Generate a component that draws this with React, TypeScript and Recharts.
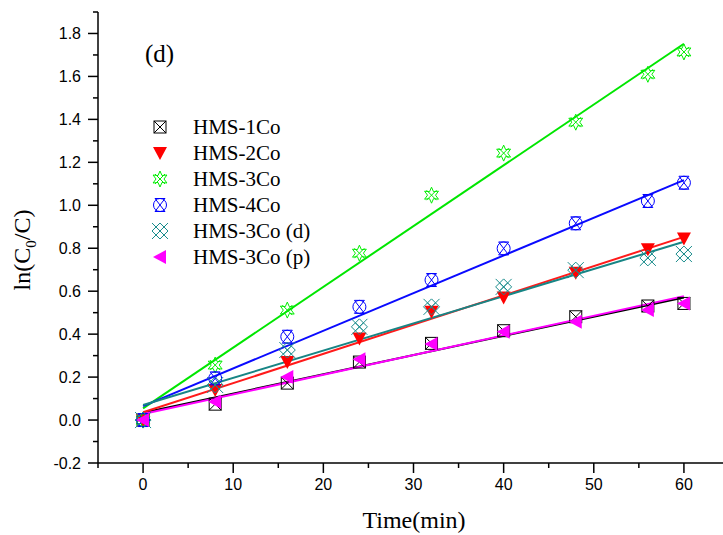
import React from "react";
import { ComposedChart, XAxis, YAxis, Scatter, Line, Label } from "recharts";

// sampled times (min) and ln(C0/C) readings per catalyst
const times = [0, 8, 16, 24, 32, 40, 48, 56, 60];
const hms1Co = [0, 0.074, 0.172, 0.27, 0.357, 0.416, 0.481, 0.531, 0.543];
const hms2Co = [0, 0.14, 0.27, 0.38, 0.504, 0.571, 0.686, 0.795, 0.845];
const hms3Co = [0, 0.256, 0.512, 0.777, 1.047, 1.243, 1.387, 1.61, 1.714];
const hms4Co = [0, 0.194, 0.388, 0.527, 0.652, 0.799, 0.916, 1.02, 1.105];
const hms3CoD = [0, 0.163, 0.326, 0.434, 0.527, 0.62, 0.698, 0.755, 0.773];
const hms3CoP = [0, 0.085, 0.2, 0.283, 0.354, 0.411, 0.458, 0.512, 0.543];

// linear fit lines, value at t=0 and t=60
const fitTimes = [0, 60];
const fit1Co = [0.034, 0.571];
const fit2Co = [0.036, 0.853];
const fit3Co = [0.054, 1.752];
const fit4Co = [0.065, 1.117];
const fit3CoD = [0.07, 0.83];
const fit3CoP = [0.028, 0.577];

const xTicks = [-5, 0, 5, 10, 15, 20, 25, 30, 35, 40, 45, 50, 55, 60, 65];
const yTicks = [-0.2, -0.1, 0, 0.1, 0.2, 0.3, 0.4, 0.5, 0.6, 0.7, 0.8, 0.9, 1.0, 1.1, 1.2, 1.3, 1.4, 1.5, 1.6, 1.7, 1.8, 1.9];

type Kind = "boxX" | "triDown" | "star" | "circBox" | "lattice" | "triLeft";

const series: { name: string; values: number[]; fit: number[]; color: string; line: string; kind: Kind }[] = [
  { name: "HMS-1Co", values: hms1Co, fit: fit1Co, color: "#000000", line: "#000000", kind: "boxX" },
  { name: "HMS-2Co", values: hms2Co, fit: fit2Co, color: "#ff0000", line: "#ff1a1a", kind: "triDown" },
  { name: "HMS-3Co", values: hms3Co, fit: fit3Co, color: "#00ee00", line: "#00e600", kind: "star" },
  { name: "HMS-4Co", values: hms4Co, fit: fit4Co, color: "#0000ff", line: "#0a0aff", kind: "circBox" },
  { name: "HMS-3Co (d)", values: hms3CoD, fit: fit3CoD, color: "#1a8c8c", line: "#178585", kind: "lattice" },
  { name: "HMS-3Co (p)", values: hms3CoP, fit: fit3CoP, color: "#ff00ff", line: "#ff00ff", kind: "triLeft" },
];

const serif = '"Liberation Serif", "Times New Roman", serif';
const sans = '"Liberation Sans", Arial, sans-serif';

function Marker({ kind, color, cx, cy }: { kind: Kind; color: string; cx: number; cy: number }) {
  const s = 6;
  switch (kind) {
    case "boxX":
      return (
        <g stroke={color} strokeWidth={1} fill="none">
          <rect x={cx - s} y={cy - s} width={2 * s} height={2 * s} />
          <line x1={cx - s} y1={cy - s} x2={cx + s} y2={cy + s} />
          <line x1={cx + s} y1={cy - s} x2={cx - s} y2={cy + s} />
        </g>
      );
    case "triDown":
      return <polygon points={`${cx - 7},${cy - 6} ${cx + 7},${cy - 6} ${cx},${cy + 7}`} fill={color} />;
    case "triLeft":
      return <polygon points={`${cx + 6},${cy - 7} ${cx + 6},${cy + 7} ${cx - 7},${cy}`} fill={color} />;
    case "star": {
      const pts: string[] = [];
      for (let i = 0; i < 12; i++) {
        const r = i % 2 === 0 ? 8 : 4;
        const a = (Math.PI / 6) * i - Math.PI / 2;
        pts.push(`${cx + r * Math.cos(a)},${cy + r * Math.sin(a)}`);
      }
      return (
        <g stroke={color} strokeWidth={1} fill="none">
          <polygon points={pts.join(" ")} />
          <line x1={cx - 5} y1={cy - 5} x2={cx + 5} y2={cy + 5} />
          <line x1={cx + 5} y1={cy - 5} x2={cx - 5} y2={cy + 5} />
        </g>
      );
    }
    case "circBox":
      return (
        <g stroke={color} strokeWidth={1} fill="none">
          <circle cx={cx} cy={cy} r={6.5} />
          <line x1={cx - 5} y1={cy - 6.5} x2={cx + 5} y2={cy - 6.5} />
          <line x1={cx - 5} y1={cy + 6.5} x2={cx + 5} y2={cy + 6.5} />
          <line x1={cx - 5} y1={cy - 6.5} x2={cx + 5} y2={cy + 6.5} />
          <line x1={cx + 5} y1={cy - 6.5} x2={cx - 5} y2={cy + 6.5} />
        </g>
      );
    case "lattice":
      return (
        <g stroke={color} strokeWidth={1} fill="none">
          <polygon points={`${cx},${cy - 8} ${cx + 8},${cy} ${cx},${cy + 8} ${cx - 8},${cy}`} />
          <line x1={cx - 4} y1={cy - 4} x2={cx + 4} y2={cy + 4} />
          <line x1={cx + 4} y1={cy - 4} x2={cx - 4} y2={cy + 4} />
          <line x1={cx - 8} y1={cy - 8} x2={cx + 8} y2={cy + 8} />
          <line x1={cx + 8} y1={cy - 8} x2={cx - 8} y2={cy + 8} />
        </g>
      );
  }
  return null;
}

const BottomTick = (props: any) => {
  const { x, y, payload } = props;
  const v = payload.value;
  const major = v % 10 === 0;
  return (
    <g>
      <line x1={x} y1={y} x2={x} y2={y + (major ? 10 : 5)} stroke="#000" strokeWidth={1.5} />
      {major && (
        <text x={x} y={y + 27} textAnchor="middle" fontFamily={sans} fontSize={16} fill="#000">
          {v}
        </text>
      )}
    </g>
  );
};

const TopTick = (props: any) => {
  const { x, y } = props;
  return <line x1={x} y1={y} x2={x} y2={y + 3} stroke="#000" strokeWidth={1} />;
};

const LeftTick = (props: any) => {
  const { x, y, payload } = props;
  const v = payload.value;
  const major = Math.round(v * 10) % 2 === 0;
  return (
    <g>
      <line x1={x} y1={y} x2={x - (major ? 10 : 5)} y2={y} stroke="#000" strokeWidth={1.5} />
      {major && (
        <text x={x - 17} y={y} dy="0.35em" textAnchor="end" fontFamily={sans} fontSize={16} fill="#000">
          {v.toFixed(1)}
        </text>
      )}
    </g>
  );
};

export default function App() {
  return (
    <div style={{ position: "fixed", left: 0, top: 0, width: 723, height: 535, overflow: "hidden", background: "#fff" }}>
      <ComposedChart width={735} height={535} margin={{ top: 12, right: 6, bottom: 12, left: 8 }}>
        <XAxis
          xAxisId={0}
          dataKey="t"
          type="number"
          domain={[-5, 65]}
          ticks={xTicks}
          interval={0}
          height={60}
          tickSize={0}
          tickMargin={0}
          tick={<BottomTick />}
          axisLine={{ stroke: "#000", strokeWidth: 1.5 }}
          allowDataOverflow
        >
          <Label
            content={() => (
              <text x={414} y={528} textAnchor="middle" fontFamily={serif} fontSize={24} fill="#000">
                Time(min)
              </text>
            )}
          />
        </XAxis>
        <XAxis
          xAxisId="top"
          orientation="top"
          type="number"
          domain={[-5, 65]}
          ticks={xTicks}
          interval={0}
          height={0}
          tickSize={0}
          tickMargin={0}
          tick={<TopTick />}
          axisLine={{ stroke: "#000", strokeWidth: 1.5 }}
          allowDataOverflow
        />
        <YAxis
          dataKey="v"
          type="number"
          domain={[-0.2, 1.9]}
          ticks={yTicks}
          interval={0}
          width={90}
          tickSize={0}
          tickMargin={0}
          tick={<LeftTick />}
          axisLine={{ stroke: "#000", strokeWidth: 1.5 }}
          allowDataOverflow
        >
          <Label
            content={() => (
              <text
                x={30}
                y={250}
                transform="rotate(-90, 30, 250)"
                textAnchor="middle"
                fontFamily={serif}
                fontSize={24}
                fill="#000"
              >
                ln(C
                <tspan dy={6} fontSize={15}>0</tspan>
                <tspan dy={-6}>/C)</tspan>
              </text>
            )}
          />
        </YAxis>
        {series.map((s) => (
          <Line
            key={"fit-" + s.name}
            data={fitTimes.map((t, i) => ({ t, v: s.fit[i] }))}
            dataKey="v"
            stroke={s.line}
            strokeWidth={2}
            dot={false}
            activeDot={false}
            isAnimationActive={false}
            legendType="none"
          />
        ))}
        {series.map((s) => (
          <Scatter
            key={s.name}
            name={s.name}
            data={times.map((t, i) => ({ t, v: s.values[i] }))}
            dataKey="v"
            isAnimationActive={false}
            shape={(p: any) => <Marker kind={s.kind} color={s.color} cx={p.cx} cy={p.cy} />}
          />
        ))}
      </ComposedChart>
      <div style={{ position: "absolute", left: 145, top: 39, fontFamily: serif, fontSize: 25, lineHeight: "30px" }}>
        (d)
      </div>
      <div style={{ position: "absolute", left: 148, top: 114, fontFamily: serif, fontSize: 21 }}>
        {series.map((s) => (
          <div key={s.name} style={{ display: "flex", alignItems: "center", height: 26 }}>
            <svg width={24} height={26}>
              <Marker kind={s.kind} color={s.color} cx={12} cy={13} />
            </svg>
            <span style={{ marginLeft: 21, lineHeight: "26px" }}>{s.name}</span>
          </div>
        ))}
      </div>
    </div>
  );
}
